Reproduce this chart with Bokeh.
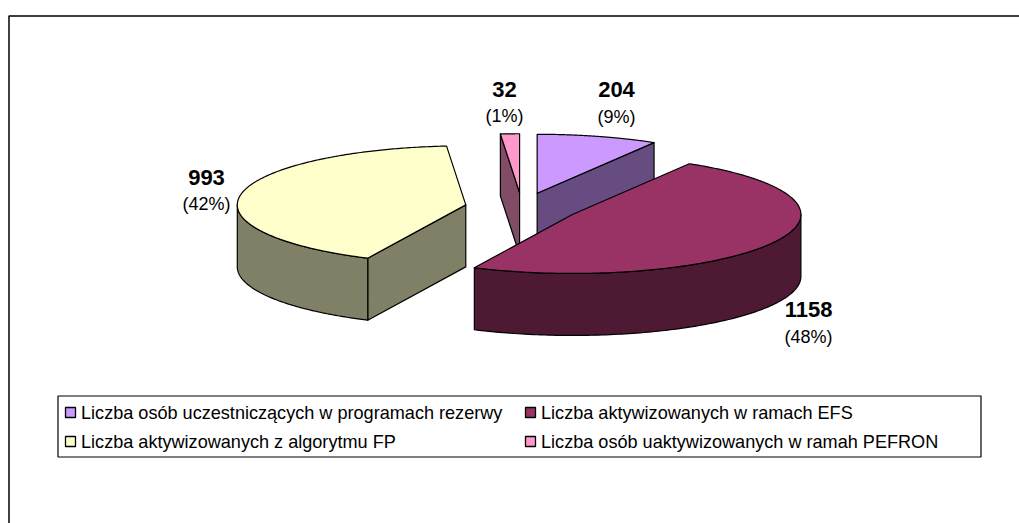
import numpy as np
from bokeh.plotting import figure
from bokeh.models import Range1d
from bokeh.core.properties import value
from bokeh.embed import file_html
from bokeh.resources import INLINE

categories = ["Liczba osób uczestniczących w programach rezerwy",
              "Liczba aktywizowanych w ramach EFS",
              "Liczba aktywizowanych z algorytmu FP",
              "Liczba osób uaktywizowanych w ramah PEFRON"]
counts = [204, 1158, 993, 32]
percent_labels = ["(9%)", "(48%)", "(42%)", "(1%)"]
top_colors = ["#CC99FF", "#993366", "#FFFFCC", "#FF99CC"]
side_colors = ["#664C80", "#4D1933", "#808066", "#804C66"]

# layout, in page pixels
W, H = 1019, 523
CX, CY, RX, RY, DEPTH, EXPLODE = 521.5, 207, 228.5, 59, 62, 0.25
label_pos = [(616, 89, 116), (808, 309, 336), (206, 177, 203), (504, 89, 115)]
legend_cells = [(65, 412), (525, 412), (65, 441), (525, 441)]

p = figure(width=W, height=H, output_backend="svg", toolbar_location=None,
           x_range=Range1d(0, W), y_range=Range1d(H, 0), min_border=0,
           outline_line_color=None, background_fill_color="white", border_fill_color="white")
p.axis.visible = False
p.grid.visible = False

# outer frame
p.line([8.5, 8.5, 1019], [523, 15.5, 15.5], line_color="black", line_width=1.5)

total = sum(counts)
edges = np.concatenate([[0], np.cumsum(counts) / total * 2 * np.pi])


def rim(ax, ay, t):
    return ax + RX * np.sin(t), ay - RY * np.cos(t)


slices = []
for i, c in enumerate(counts):
    a0, a1 = edges[i], edges[i + 1]
    mid = (a0 + a1) / 2
    ax, ay = rim(CX, CY, mid)
    ax = CX + EXPLODE * (ax - CX)
    ay = CY + EXPLODE * (ay - CY)
    slices.append((ay, i, ax, a0, a1))

for ay, i, ax, a0, a1 in sorted(slices):
    kw = dict(fill_color=side_colors[i], line_color="black", line_width=1.2, line_join="round")
    # radial walls facing the viewer
    for t, facing in ((a0, np.sin(a0) < -1e-6), (a1, -np.sin(a1) < -1e-6)):
        if facing:
            rx, ry = rim(ax, ay, t)
            p.patch([ax, rx, rx, ax], [ay, ry, ry + DEPTH, ay + DEPTH], **kw)
    # outer wall on the front half of the rim
    f0, f1 = max(a0, np.pi / 2), min(a1, 3 * np.pi / 2)
    if f1 > f0:
        ts = np.linspace(f0, f1, 120)
        xs, ys = rim(ax, ay, ts)
        p.patch(np.r_[xs, xs[::-1]], np.r_[ys, ys[::-1] + DEPTH], **kw)
    # top face
    ts = np.linspace(a0, a1, 240)
    xs, ys = rim(ax, ay, ts)
    p.patch(np.r_[ax, xs], np.r_[ay, ys], fill_color=top_colors[i], line_color="black",
            line_width=1.2, line_join="round")

# data labels
FONT = value("Liberation Sans")
for c, pct, (lx, y1, y2) in zip(counts, percent_labels, label_pos):
    p.text([lx], [y1], text=[str(c)], text_font=FONT, text_font_size="22px", text_font_style="bold",
           text_align="center", text_baseline="middle", text_color="black")
    p.text([lx], [y2], text=[pct], text_font=FONT, text_font_size="18px",
           text_align="center", text_baseline="middle", text_color="black")

# legend
p.quad(left=[57.5], right=[980.5], top=[395.5], bottom=[456.5], fill_color="white", line_color="black", line_width=1.2)
for name, col, (lx, ly) in zip(categories, top_colors, legend_cells):
    p.quad(left=[lx], right=[lx + 10], top=[ly - 5], bottom=[ly + 5], fill_color=col, line_color="black", line_width=1.3)
    p.text([lx + 15.5], [ly], text=[name], text_font=FONT, text_font_size="18.1px",
           text_align="left", text_baseline="middle", text_color="black")

open("out.html", "w").write(file_html(p, INLINE))
